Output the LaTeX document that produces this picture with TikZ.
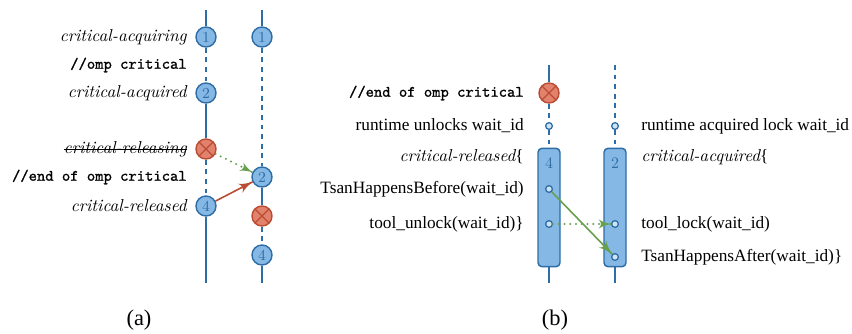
\documentclass[tikz,border=0pt]{standalone}
\usepackage{fontspec}
\usepackage{tikz}
\setmainfont{Liberation Serif}
\setmonofont{Latin Modern Mono}[FakeBold=1.2]
\newfontfamily\cmfont{Latin Modern Roman}
\usetikzlibrary{arrows}
\usetikzlibrary{decorations.markings}
\usetikzlibrary{positioning}
\definecolor{tlblue}{RGB}{46, 109, 166}
\definecolor{evfill}{RGB}{133, 184, 228}
\definecolor{xred}{RGB}{186, 76, 52}
\definecolor{xfill}{RGB}{226, 130, 108}
\definecolor{mgreen}{RGB}{104, 160, 80}
\newcommand{\evtname}[1]{{\cmfont\itshape #1}}
\newcommand{\ompcode}[1]{{\ttfamily\bfseries\fontsize{9.9}{12}\selectfont #1}}
\tikzset{arrowtip/.style = {decoration={markings,
                                        mark=at position 1 with {\arrow[scale=1.5]{latex'}}},
                            postaction={decorate}}}
\tikzset{tl/.style = {tlblue, line width = 1.25pt},
         tldash/.style = {tl, dash pattern = on 3pt off 3pt},
         ev/.style = {circle, draw = tlblue, fill = evfill, line width = 0.9pt,
                      minimum size = 12.5pt, inner sep = 0, text = tlblue,
                      font = \cmfont\fontsize{9.5}{10}\selectfont},
         xev/.style = {circle, draw = xred, fill = xfill, line width = 0.9pt,
                       minimum size = 12.5pt, inner sep = 0,
                       path picture = {\draw [xred, line width = 0.8pt]
                         (path picture bounding box.north west) -- (path picture bounding box.south east)
                         (path picture bounding box.north east) -- (path picture bounding box.south west);}},
         dot/.style = {circle, draw = tlblue, fill = evfill!40, line width = 0.8pt,
                       minimum size = 4.2pt, inner sep = 0},
         blk/.style = {rectangle, rounded corners = 2.5pt, draw = tlblue, fill = evfill,
                       line width = 0.9pt, minimum width = 13.75pt, minimum height = 74pt, inner sep = 0},
         lbl/.style = {inner sep = 0, font = \fontsize{10.8}{12}\selectfont},
         garr/.style = {mgreen, line width = 1pt, arrowtip},
         gdots/.style = {mgreen, line width = 1.4pt, line cap = round, dash pattern = on 0pt off 3.6pt,
                         decoration={markings, mark=at position 1 with {\arrow[scale=1.1, line cap = butt]{latex'}}},
                         postaction={decorate}},
         rarr/.style = {xred, line width = 1pt, arrowtip}}

\begin{document}
\begin{tikzpicture}[x = 0.625pt, y = -0.625pt]
    \useasboundingbox (0, 0) rectangle (852, 333);

    % (a)
    \coordinate (atop1) at (206, 10);
    \coordinate (abot1) at (206, 283);
    \coordinate (atop2) at (262, 10);
    \coordinate (abot2) at (262, 283);

    \node [ev] (a1) at (206, 37) {1};
    \node [ev] (a2) at (206, 93) {2};
    \node [xev] (ax) at (206, 149) {};
    \node [ev] (a4) at (206, 206) {4};

    \node [ev] (b1) at (262, 37) {1};
    \node [ev] (b2) at (262, 177) {2};
    \node [xev] (bx) at (262, 216) {};
    \node [ev] (b4) at (262, 255) {4};

    \draw [tl] (atop1) -- (a1);
    \draw [tldash] (a1) -- (a2);
    \draw [tl] (a2) -- (ax);
    \draw [tldash] (ax) -- (a4);
    \draw [tl] (a4) -- (abot1);

    \draw [tl] (atop2) -- (b1);
    \draw [tldash] (b1) -- (b2);
    \draw [tl] (b2) -- (bx);
    \draw [tldash] (bx) -- (b4);
    \draw [tl] (b4) -- (abot2);

    \node [lbl, anchor = east] (la1) at (187, 37) {\evtname{critical-acquiring}};
    \node [lbl, anchor = east] (la2) at (187, 65) {\ompcode{//omp critical}};
    \node [lbl, anchor = east] (la3) at (187, 93) {\evtname{critical-acquired}};
    \node [lbl, anchor = east] (la4) at (187, 149) {\evtname{critical-releasing}};
    \node [lbl, anchor = east] (la5) at (187, 177) {\ompcode{//end of omp critical}};
    \node [lbl, anchor = east] (la6) at (187, 206) {\evtname{critical-released}};
    % strike-through
    \draw [line width = 0.5pt] ([yshift = 2.4pt] la4.base west) -- ([yshift = 2.4pt] la4.base east);

    \draw [gdots] (ax) -- (b2);
    \draw [rarr] (a4) -- (b2);

    \node [font = \fontsize{14}{16}\selectfont] (capa) at (139, 320) {(a)};

    % (b)
    \coordinate (ctop1) at (549, 65);
    \coordinate (cbot1) at (549, 283);
    \coordinate (ctop2) at (615, 65);
    \coordinate (cbot2) at (615, 283);

    \node [xev] (cx) at (549, 93) {};
    \node [dot] (cu) at (549, 126) {};
    \node [blk] (cbox) at (549, 207.5) {};
    \node [text = tlblue, font = \cmfont\fontsize{10}{10}\selectfont, below = 3pt of cbox.north] (c4) {4};
    \node [dot] (chb) at (549, 189) {};
    \node [dot] (cul) at (549, 224) {};

    \node [dot] (dl) at (615, 126) {};
    \node [blk] (dbox) at (615, 207.5) {};
    \node [text = tlblue, font = \cmfont\fontsize{10}{10}\selectfont, below = 3pt of dbox.north] (d2) {2};
    \node [dot] (dlk) at (615, 224) {};
    \node [dot] (dha) at (615, 257) {};

    \draw [tl] (ctop1) -- (cx);
    \draw [tldash] (cx) -- (cu);
    \draw [tldash] (cu) -- (cbox);
    \draw [tl] (cbox) -- (cbot1);

    \draw [tldash] (ctop2) -- (dl);
    \draw [tldash] (dl) -- (dbox);
    \draw [tl] (dbox) -- (cbot2);

    \node [lbl, anchor = east] (lc1) at (524, 93) {\ompcode{//end of omp critical}};
    \node [lbl, anchor = east] (lc2) at (524, 126) {runtime unlocks wait\_id};
    \node [lbl, anchor = east] (lc3) at (524, 157) {\evtname{critical-released}\{};
    \node [lbl, anchor = east] (lc4) at (524, 189) {TsanHappensBefore(wait\_id)};
    \node [lbl, anchor = east] (lc5) at (524, 224) {tool\_unlock(wait\_id)\}};

    \node [lbl, anchor = west] (ld1) at (641, 126) {runtime acquired lock wait\_id};
    \node [lbl, anchor = west] (ld2) at (641, 157) {\evtname{critical-acquired}\{};
    \node [lbl, anchor = west] (ld3) at (641, 224) {tool\_lock(wait\_id)};
    \node [lbl, anchor = west] (ld4) at (641, 257) {TsanHappensAfter(wait\_id)\}};

    \draw [garr] (chb) -- (dha);
    \draw [gdots] (cul) -- (dlk);

    \node [font = \fontsize{14}{16}\selectfont] (capb) at (555, 320) {(b)};
  \end{tikzpicture}
\end{document}
